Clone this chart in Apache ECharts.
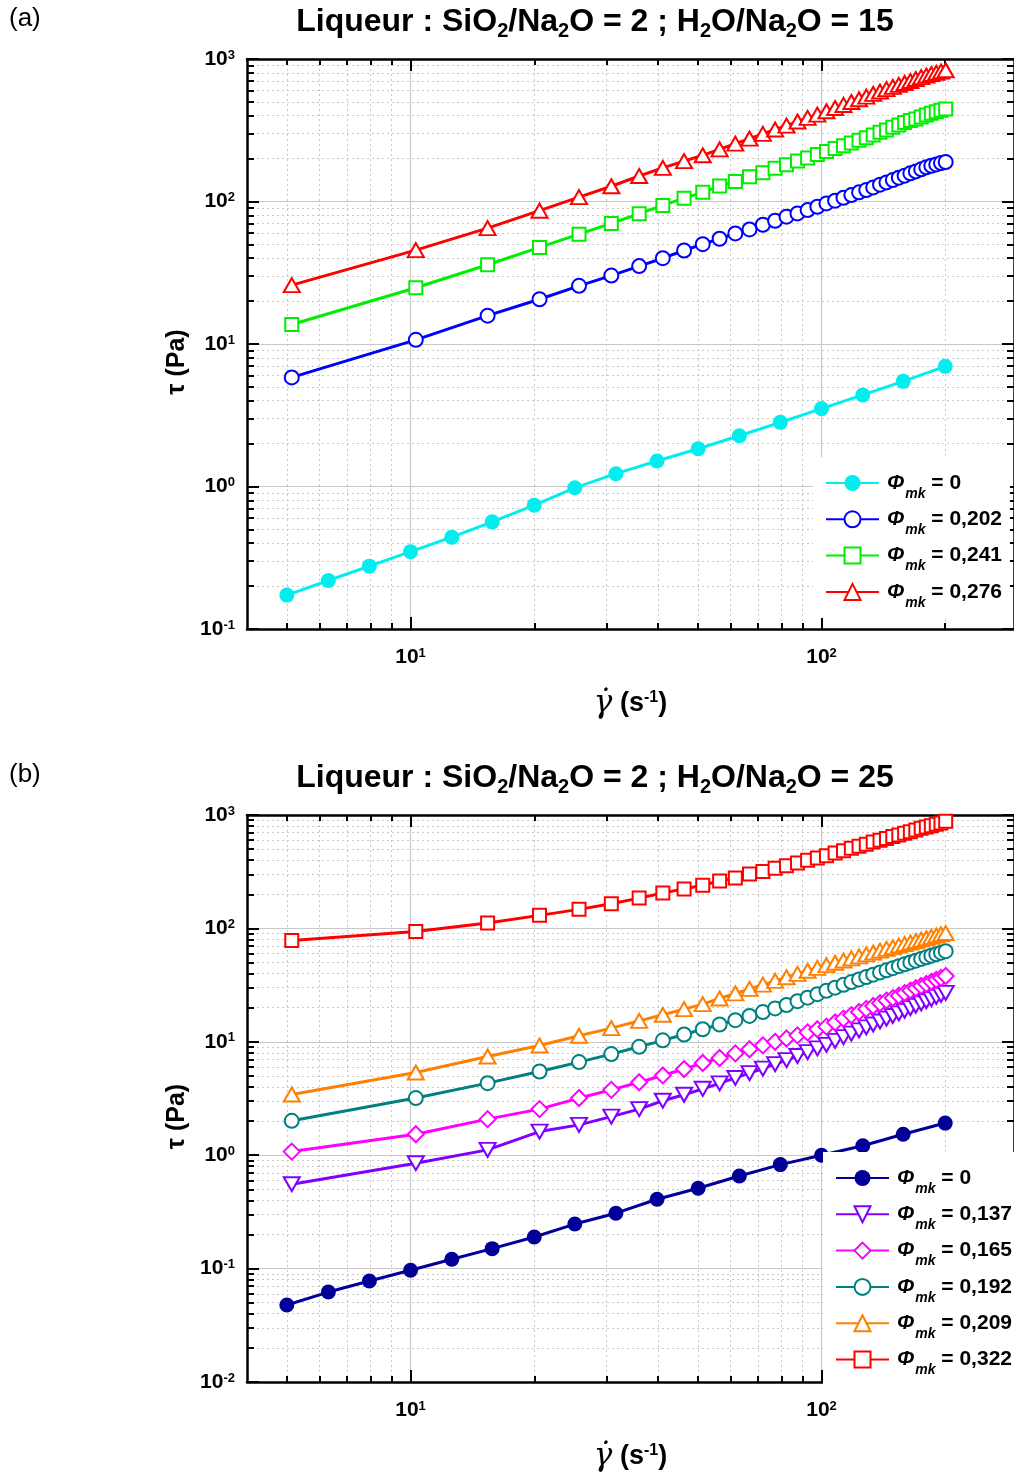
<!DOCTYPE html>
<html>
<head>
<meta charset="utf-8">
<title>Liqueur - rhéologie</title>
<script src="https://cdn.jsdelivr.net/npm/echarts@6/dist/echarts.min.js"></script>
<style>
html, body { margin: 0; padding: 0; background: #fff; }
#chart { width: 1014px; height: 1477px; }
</style>
</head>
<body>
<div id="chart"></div>
<script>
// shear rate (s-1)
const rateLog = [5, 6.31, 7.94, 10, 12.6, 15.8, 20.0, 25.1, 31.6, 39.8, 50.1, 63.1, 79.4, 100, 126, 158, 200];
const rateLin = [5.14, 10.3, 15.4, 20.6, 25.7, 30.8, 36.0, 41.1, 46.3, 51.4, 56.5, 61.7, 66.8, 72.0, 77.1,
  82.2, 87.4, 92.5, 97.7, 102.8, 107.9, 113.1, 118.2, 123.4, 128.5, 133.6, 138.8, 143.9, 149.1, 154.2,
  159.3, 164.5, 169.6, 174.8, 179.9, 185.0, 190.2, 195.3, 200.5];

// (a) H2O/Na2O = 15, tau (Pa)
const tauA0 = [0.173, 0.219, 0.276, 0.349, 0.441, 0.565, 0.740, 0.979, 1.23, 1.51, 1.84, 2.27, 2.82, 3.52, 4.39, 5.47, 6.97];
const tauA202 = [5.83, 10.7, 15.8, 20.6, 25.6, 30.2, 35.2, 40.0, 45.3, 50.2, 54.8, 59.7, 63.7, 68.7, 73.3,
  78.2, 82.5, 87.0, 91.9, 97.0, 101.3, 106.3, 110.9, 115.9, 120.3, 125.6, 131.2, 136.2, 141.4, 147.0,
  151.8, 157.6, 162.7, 168.1, 173.6, 178.0, 182.0, 186.0, 189.0];
const tauA241 = [13.7, 24.8, 36.0, 47.6, 59.0, 70.2, 82.1, 93.9, 105.6, 115.9, 128.3, 138.3, 149.3, 159.4, 170.8,
  181.4, 192.3, 201.8, 213.3, 223.9, 235.0, 246.6, 257.0, 268.6, 280.7, 292.9, 305.9, 317.6, 331.7, 344.5,
  357.9, 370.0, 380.0, 392.0, 404.0, 416.0, 427.0, 437.0, 446.0];
const tauA276 = [25.9, 45.6, 65.0, 86.2, 107.4, 128, 151, 172, 192, 211, 232, 255, 276, 298, 320,
  341, 364, 386, 407, 430, 453, 476, 499, 522, 545, 569, 591, 614, 637, 658,
  679, 701, 724, 746, 766, 785, 800, 817, 834];

// (b) H2O/Na2O = 25, tau (Pa)
const tauB0 = [0.0477, 0.0621, 0.0778, 0.0966, 0.121, 0.150, 0.190, 0.247, 0.308, 0.409, 0.511, 0.656, 0.826, 1.00, 1.21, 1.53, 1.92];
const tauB137 = [0.555, 0.850, 1.114, 1.615, 1.851, 2.19, 2.55, 3.02, 3.41, 3.85, 4.3, 4.8, 5.3, 5.8, 6.35,
  6.9, 7.5, 8.1, 8.75, 9.4, 10.2, 11.0, 11.8, 12.6, 13.4, 14.2, 15.1, 16.0, 16.9, 17.8,
  18.8, 19.8, 20.8, 21.8, 22.8, 23.8, 24.9, 25.9, 27.0];
const tauB165 = [1.076, 1.53, 2.08, 2.55, 3.19, 3.77, 4.4, 5.05, 5.75, 6.5, 7.2, 7.9, 8.6, 9.3, 10.0,
  10.7, 11.4, 12.1, 12.9, 13.6, 14.8, 16.0, 17.2, 18.3, 19.5, 20.7, 21.9, 23.1, 24.3, 25.5,
  26.9, 28.3, 29.7, 31.1, 32.4, 33.8, 35.2, 36.6, 38.0];
const tauB192 = [2.01, 3.19, 4.32, 5.47, 6.62, 7.79, 9.03, 10.3, 11.6, 12.9, 14.2, 15.5, 16.9, 18.3, 19.7,
  21.1, 22.8, 24.5, 26.3, 28.2, 30.0, 31.8, 33.6, 35.5, 37.3, 39.1, 40.9, 42.7, 44.6, 46.4,
  48.2, 50.1, 51.9, 53.8, 55.6, 57.5, 59.3, 61.1, 63.0];
const tauB209 = [3.43, 5.36, 7.42, 9.27, 11.3, 13.2, 15.3, 17.3, 19.4, 21.5, 24.1, 26.7, 29.3, 31.9, 34.5,
  37.1, 39.7, 42.3, 44.9, 47.5, 49.8, 52.1, 54.4, 56.7, 59.0, 61.3, 63.6, 65.9, 68.2, 70.6,
  72.9, 75.1, 77.4, 79.7, 81.9, 84.2, 86.5, 88.7, 91.0];
const tauB322 = [78.3, 94.1, 111.6, 130.3, 147.2, 165, 185, 205, 223, 240, 262, 278, 302, 318, 339,
  357, 378, 398, 418, 438, 463, 485, 508, 529, 551, 579, 598, 619, 645, 667,
  689, 713, 738, 763, 785, 805, 828, 852, 880];

// ticks
const xMajor = [10, 100];
const xMinor = [5, 6, 7, 8, 9, 20, 30, 40, 50, 60, 70, 80, 90, 200];
const yMajorA = [0.1, 1, 10, 100, 1000];
const yMajorB = [0.01, 0.1, 1, 10, 100, 1000];
const decadesA = [0.1, 1, 10, 100];
const decadesB = [0.01, 0.1, 1, 10, 100];
const mult = [2, 3, 4, 5, 6, 7, 8, 9];

const FONT = '"Liberation Sans", Arial, sans-serif';
const GRID_LINE = '#c8c8c8';

function minorsOf(decades) {
  const out = [];
  decades.forEach(d => mult.forEach(m => out.push(+(d * m).toPrecision(3))));
  return out;
}

// 10^n with superscript
function powLabel(v) {
  const e = Math.round(Math.log10(v));
  return '{b|10}{s|' + e + '}';
}
const powRich = {
  b: { fontSize: 21, fontWeight: 'bold', fontFamily: FONT, color: '#000', lineHeight: 25 },
  s: { fontSize: 13, fontWeight: 'bold', fontFamily: FONT, color: '#000', lineHeight: 13, verticalAlign: 'top', padding: [2, 0, 0, 0] }
};

function tick(values, len) {
  return { show: true, inside: true, length: len, customValues: values, lineStyle: { color: '#000', width: 2 } };
}
const axisLineOn = { show: true, onZero: false, lineStyle: { color: '#000', width: 2.5 } };
const axisLineOff = { show: false, onZero: false };

function xAxes(grid, withName) {
  const base = { type: 'log', logBase: 10, min: 4, max: 294, gridIndex: grid };
  return [
    Object.assign({}, base, {
      position: 'bottom', axisLine: axisLineOn, axisTick: tick(xMajor, 12),
      axisLabel: { customValues: xMajor, formatter: powLabel, margin: 16, rich: powRich },
      splitLine: { show: true, lineStyle: { color: GRID_LINE, width: 1.2 } },
      name: withName, nameLocation: 'middle', nameGap: 58,
      nameTextStyle: {
        fontSize: 27, fontWeight: 'bold', fontFamily: FONT, color: '#000',
        rich: {
          g: { fontSize: 31, fontStyle: 'italic', fontWeight: 'normal', fontFamily: '"DejaVu Serif", serif', color: '#000', lineHeight: 34 },
          t: { fontSize: 27, fontWeight: 'bold', fontFamily: FONT, color: '#000', lineHeight: 34 },
          s: { fontSize: 16, fontWeight: 'bold', fontFamily: FONT, color: '#000', lineHeight: 16, verticalAlign: 'top', padding: [3, 0, 0, 0] }
        }
      }
    }),
    Object.assign({}, base, {
      position: 'bottom', axisLine: axisLineOff, axisTick: tick(xMinor, 6), axisLabel: { show: false },
      splitLine: { show: true, lineStyle: { color: GRID_LINE, width: 1, type: [2, 3] } }
    }),
    Object.assign({}, base, {
      position: 'top', axisLine: axisLineOn, axisTick: tick(xMajor, 12), axisLabel: { show: false }, splitLine: { show: false }
    }),
    Object.assign({}, base, {
      position: 'top', axisLine: axisLineOff, axisTick: tick(xMinor, 6), axisLabel: { show: false }, splitLine: { show: false }
    })
  ];
}

function yAxes(grid, min, majors, minors) {
  const base = { type: 'log', logBase: 10, min: min, max: 1000, gridIndex: grid };
  return [
    Object.assign({}, base, {
      position: 'left', axisLine: axisLineOn, axisTick: tick(majors, 12),
      axisLabel: { customValues: majors, formatter: powLabel, margin: 12, rich: powRich },
      splitLine: { show: true, lineStyle: { color: GRID_LINE, width: 1.2 } },
      name: 'τ (Pa)', nameLocation: 'middle', nameRotate: 90, nameGap: 57,
      nameTextStyle: { fontSize: 25, fontWeight: 'bold', fontFamily: FONT, color: '#000', padding: [0, 36, 0, 0] }
    }),
    Object.assign({}, base, {
      position: 'left', axisLine: axisLineOff, axisTick: tick(minors, 7), axisLabel: { show: false },
      splitLine: { show: true, lineStyle: { color: GRID_LINE, width: 1, type: [2, 3] } }
    }),
    Object.assign({}, base, {
      position: 'right', axisLine: axisLineOn, axisTick: tick(majors, 12), axisLabel: { show: false }, splitLine: { show: false }
    }),
    Object.assign({}, base, {
      position: 'right', axisLine: axisLineOff, axisTick: tick(minors, 7), axisLabel: { show: false }, splitLine: { show: false }
    })
  ];
}

function serie(name, grid, xs, ys, color, symbol, size, rotate) {
  return {
    name: name, type: 'line', xAxisIndex: grid * 4, yAxisIndex: grid * 4,
    data: xs.map((x, i) => [x, ys[i]]),
    color: color, symbol: symbol, symbolSize: size, symbolRotate: rotate || 0,
    showSymbol: true, showAllSymbol: true, clip: false,
    lineStyle: { color: color, width: 3 },
    itemStyle: { color: color, borderWidth: 1.5 },
    emphasis: { disabled: true }
  };
}

const legendLabel = {
  a0: '0', a202: '0,202', a241: '0,241', a276: '0,276',
  b0: '0', b137: '0,137', b165: '0,165', b192: '0,192', b209: '0,209', b322: '0,322'
};
const legendRich = {
  p: { fontSize: 21, fontWeight: 'bold', fontStyle: 'italic', fontFamily: FONT, color: '#000', lineHeight: 26, padding: [0, 0, 0, 3] },
  m: { fontSize: 14, fontWeight: 'bold', fontStyle: 'italic', fontFamily: FONT, color: '#000', lineHeight: 14, verticalAlign: 'top', padding: [17, 0, 0, 1] },
  t: { fontSize: 21, fontWeight: 'bold', fontFamily: FONT, color: '#000', lineHeight: 26 }
};
function legend(names, left, top, padTop) {
  return {
    data: names, orient: 'vertical', left: left, top: top,
    backgroundColor: '#fff', padding: [padTop, 8, 8, 12],
    itemWidth: 53, itemHeight: 20, itemGap: 5.3, selectedMode: false,
    formatter: n => '{p|Φ}{m|mk}{t| = ' + legendLabel[n] + '}',
    textStyle: { rich: legendRich }
  };
}

const titleRich = {
  m: { fontSize: 32, fontWeight: 'bold', fontFamily: FONT, color: '#000', lineHeight: 37 },
  s: { fontSize: 20, fontWeight: 'bold', fontFamily: FONT, color: '#000', lineHeight: 20, verticalAlign: 'top', padding: [17, 0, 0, 0] }
};
function titleText(ratio) {
  return '{m|Liqueur : SiO}{s|2}{m|/Na}{s|2}{m|O = 2 ; H}{s|2}{m|O/Na}{s|2}{m|O = ' + ratio + '}';
}
const xName = '{g|γ̇}{t| (s}{s|-1}{t|)}';

const chart = echarts.init(document.getElementById('chart'));
chart.setOption({
  animation: false,
  backgroundColor: '#fff',
  title: [
    { text: '(a)', left: 9, top: 6, padding: 0, textStyle: { fontSize: 26, fontWeight: 'normal', fontFamily: FONT, color: '#000' } },
    { text: titleText(15), left: 595, top: 4, padding: 0, textAlign: 'center', textStyle: { rich: titleRich } },
    { text: '(b)', left: 9, top: 762, padding: 0, textStyle: { fontSize: 26, fontWeight: 'normal', fontFamily: FONT, color: '#000' } },
    { text: titleText(25), left: 595, top: 760, padding: 0, textAlign: 'center', textStyle: { rich: titleRich } }
  ],
  grid: [
    { left: 247, top: 59, width: 769, height: 570 },
    { left: 247, top: 815, width: 769, height: 567 }
  ],
  legend: [
    legend(['a0', 'a202', 'a241', 'a276'], 813, 457, 13),
    legend(['b0', 'b137', 'b165', 'b192', 'b209', 'b322'], 823, 1152, 13)
  ],
  xAxis: xAxes(0, xName).concat(xAxes(1, xName)),
  yAxis: yAxes(0, 0.1, yMajorA, minorsOf(decadesA)).concat(yAxes(1, 0.01, yMajorB, minorsOf(decadesB))),
  series: [
    serie('a0', 0, rateLog, tauA0, '#00eeee', 'circle', 15),
    serie('a202', 0, rateLin, tauA202, '#0000ff', 'emptyCircle', 14),
    serie('a241', 0, rateLin, tauA241, '#00ee00', 'emptyRect', 13),
    serie('a276', 0, rateLin, tauA276, '#ff0000', 'emptyTriangle', [16, 14]),
    serie('b0', 1, rateLog, tauB0, '#000099', 'circle', 15),
    serie('b137', 1, rateLin, tauB137, '#8000ff', 'emptyTriangle', [16, 14], 180),
    serie('b165', 1, rateLin, tauB165, '#ff00ff', 'emptyDiamond', 16),
    serie('b192', 1, rateLin, tauB192, '#008080', 'emptyCircle', 14),
    serie('b209', 1, rateLin, tauB209, '#ff8000', 'emptyTriangle', [16, 14]),
    serie('b322', 1, rateLin, tauB322, '#ff0000', 'emptyRect', 13)
  ]
});
</script>
</body>
</html>
